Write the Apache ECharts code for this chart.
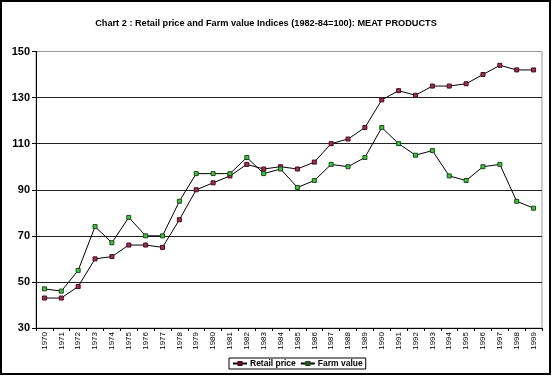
<!DOCTYPE html>
<html><head><meta charset="utf-8">
<script src="https://cdn.jsdelivr.net/npm/echarts@6/dist/echarts.min.js"></script>
<style>html,body{margin:0;padding:0;background:#fff}#c{width:552px;height:378px}</style>
</head><body><div id="c"></div>
<script>
const years = ['1970','1971','1972','1973','1974','1975','1976','1977','1978','1979','1980','1981','1982','1983','1984','1985','1986','1987','1988','1989','1990','1991','1992','1993','1994','1995','1996','1997','1998','1999'];
const retailPrice = [43,43,48,60,61,66,66,65,77,90,93,96,101,99,100,99,102,110,112,117,129,133,131,135,135,136,140,144,142,142];
const farmValue = [47,46,55,74,67,78,70,70,85,97,97,97,104,97,99,91,94,101,100,104,117,110,105,107,96,94,100,101,85,82];
const yTicks = [30,50,70,90,110,130,150];

const chart = echarts.init(document.getElementById('c'), null, {renderer:'canvas'});
const font = 'Arial, "Liberation Sans", sans-serif';
chart.setOption({
  animation:false,
  backgroundColor:'#fff',
  title:{text:'Chart 2 : Retail price and Farm value Indices (1982-84=100): MEAT PRODUCTS',left:261,textAlign:'center',top:14,
    textStyle:{fontFamily:font,fontSize:9.2,fontWeight:'bold',color:'#000'}},
  legend:{bottom:9,left:229,itemWidth:14,itemHeight:4,itemGap:4,borderColor:'#000',borderWidth:1,padding:[1,3,1,3],
    textStyle:{fontFamily:font,fontSize:8.5,fontWeight:'bold',color:'#000',padding:[0,0,0,-2]},
    data:['Retail price','Farm value']},
  grid:{left:36,right:10,top:51.5,bottom:50,show:true,borderColor:'#999',borderWidth:1},
  xAxis:{type:'category',data:years,boundaryGap:true,
    axisLine:{lineStyle:{color:'#000',width:1}},
    axisTick:{show:true,alignWithLabel:false,length:3,lineStyle:{color:'#000'}},
    axisLabel:{rotate:90,fontFamily:font,fontSize:8,color:'#000',margin:4,interval:0}},
  yAxis:{type:'value',min:30,max:150,interval:20,
    axisLine:{show:true,lineStyle:{color:'#000'}},
    axisTick:{show:true,length:4,lineStyle:{color:'#000'}},
    splitLine:{showMaxLine:false,lineStyle:{color:'#222',width:1}},
    axisLabel:{fontFamily:font,fontSize:11,fontWeight:'bold',color:'#000',margin:6}},
  series:[
    {name:'Retail price',type:'line',data:retailPrice,symbol:'rect',symbolSize:4,
     lineStyle:{color:'#000',width:1},
     itemStyle:{color:'#993350',borderColor:'#4a0a1a',borderWidth:1}},
    {name:'Farm value',type:'line',data:farmValue,symbol:'rect',symbolSize:4,
     lineStyle:{color:'#000',width:1},
     itemStyle:{color:'#44c044',borderColor:'#1a4a1a',borderWidth:1}}
  ],
  graphic:[{type:'rect',shape:{x:1,y:1,width:549,height:373},style:{fill:null,stroke:'#000',lineWidth:2},silent:true}]
});
</script></body></html>
